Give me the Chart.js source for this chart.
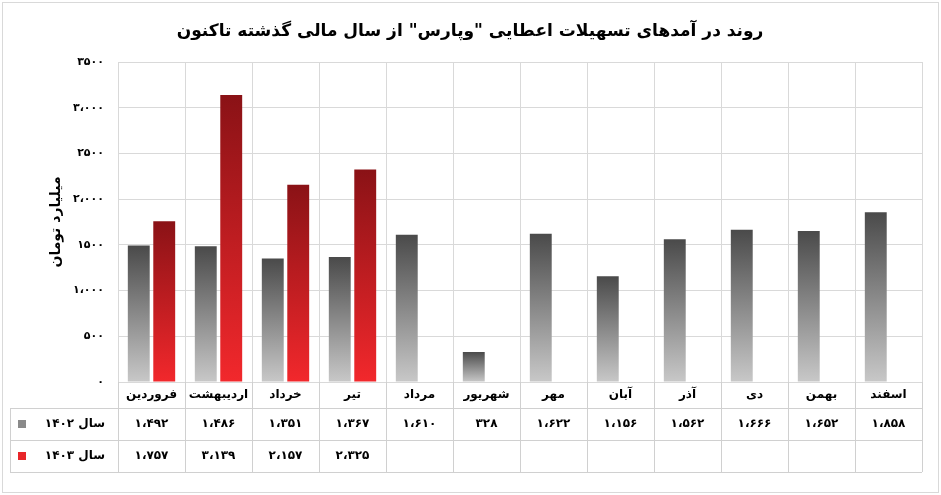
<!DOCTYPE html>
<html><head><meta charset="utf-8">
<script src="https://cdn.jsdelivr.net/npm/chart.js@4"></script>
<style>html,body{margin:0;padding:0;background:#fff}#w{width:941px;height:495px}</style>
</head><body><div id="w"><canvas id="c"></canvas></div>
<script>
const categories=["فروردین","اردیبهشت","خرداد","تیر","مرداد","شهریور","مهر","آبان","آذر","دی","بهمن","اسفند"];
const s1402=[1492,1486,1351,1367,1610,328,1622,1156,1562,1666,1652,1858];
const s1403=[1757,3139,2157,2325,null,null,null,null,null,null,null,null];
const seriesNames=["سال ۱۴۰۲","سال ۱۴۰۳"];
const tickLabels={0:"۰",500:"۵۰۰",1000:"۱،۰۰۰",1500:"۱۵۰۰",2000:"۲،۰۰۰",2500:"۲۵۰۰",3000:"۳،۰۰۰",3500:"۳۵۰۰"};
const title='روند در آمدهای تسهیلات اعطایی "وپارس" از سال مالی گذشته تاکنون';
const yTitle="میلیارد تومان";
const FONT="'DejaVu Sans'";
function fa(n){if(n==null)return"";let s=String(n);if(n>=1000)s=s.slice(0,-3)+"،"+s.slice(-3);return s.replace(/[0-9]/g,d=>"۰۱۲۳۴۵۶۷۸۹"[d]);}
function grad(ctx,top,bot){const c=ctx.chart,a=c.chartArea;if(!a||ctx.type!=='data'||ctx.raw==null)return top;
 const y=c.scales.y,t=y.getPixelForValue(ctx.raw),b=y.getPixelForValue(0);
 const g=c.ctx.createLinearGradient(0,t,0,b);g.addColorStop(0,top);g.addColorStop(1,bot);return g;}
const tablePlugin={id:'tbl',afterDraw(chart){
 const c=chart.ctx,x=chart.scales.x,a=chart.chartArea;
 const n=categories.length,w=(a.right-a.left)/n;
 c.save();c.strokeStyle='#d0d0d0';c.lineWidth=1;
 const r0=a.bottom,r1=408,r2=440,r3=472,L=10;
 c.beginPath();
 [r1,r2,r3].forEach(y=>{c.moveTo(L,y+.5);c.lineTo(a.right,y+.5);});
 c.moveTo(L+.5,r1);c.lineTo(L+.5,r3);
 for(let i=0;i<=n;i++){const xx=Math.round(a.left+i*w)+.5;c.moveTo(xx,r0);c.lineTo(xx,r3);}
 c.stroke();
 c.fillStyle='#000';c.font='bold 12px '+FONT;c.textAlign='center';c.textBaseline='middle';
 for(let i=0;i<n;i++){const cx=x.getPixelForValue(i);
  c.fillText(categories[i],cx,395);
  c.fillText(fa(s1402[i]),cx,(r1+r2)/2);c.fillText(fa(s1403[i]),cx,(r2+r3)/2);}
 c.direction='rtl';
 [[r1,'#8a8a8a'],[r2,'#e8262a']].forEach(([y,col],k)=>{c.fillStyle=col;c.fillRect(18,y+12,8,8);c.fillStyle='#000';c.textAlign='right';c.fillText(seriesNames[k],105,y+16);});
 c.direction='ltr';
 c.font='bold 17px '+FONT;c.textAlign='center';c.fillStyle='#000';c.fillText(title,470,32);
 c.strokeStyle='#d9d9d9';c.strokeRect(2.5,2.5,936,490);
 c.restore();}};
new Chart(document.getElementById('c'),{type:'bar',
 data:{labels:categories,datasets:[
  {label:seriesNames[0],data:s1402,backgroundColor:ctx=>grad(ctx,'#4a4a4a','#c8c8c8')},
  {label:seriesNames[1],data:s1403,backgroundColor:ctx=>grad(ctx,'#8a1216','#f2282c')}]},
 options:{responsive:true,maintainAspectRatio:false,animation:false,
  layout:{padding:{top:62,left:44,right:19,bottom:87}},
  datasets:{bar:{categoryPercentage:0.76,barPercentage:0.86}},
  plugins:{legend:{display:false},tooltip:{enabled:false}},
  scales:{
   x:{ticks:{display:false},grid:{display:true,color:'#d9d9d9',offset:true,drawTicks:false},border:{color:'#d9d9d9'},afterFit:s=>{s.height=26;}},
   y:{min:0,max:3500,ticks:{stepSize:500,padding:14,color:'#000',font:{family:FONT,weight:'bold',size:11},callback:v=>tickLabels[v]},
      grid:{color:'#d9d9d9',drawTicks:false},border:{color:'#d9d9d9'},
      title:{display:true,text:yTitle,color:'#000',font:{family:FONT,weight:'bold',size:14}},
      afterFit:s=>{s.width=74;}}}},
 plugins:[tablePlugin]});
</script></body></html>
